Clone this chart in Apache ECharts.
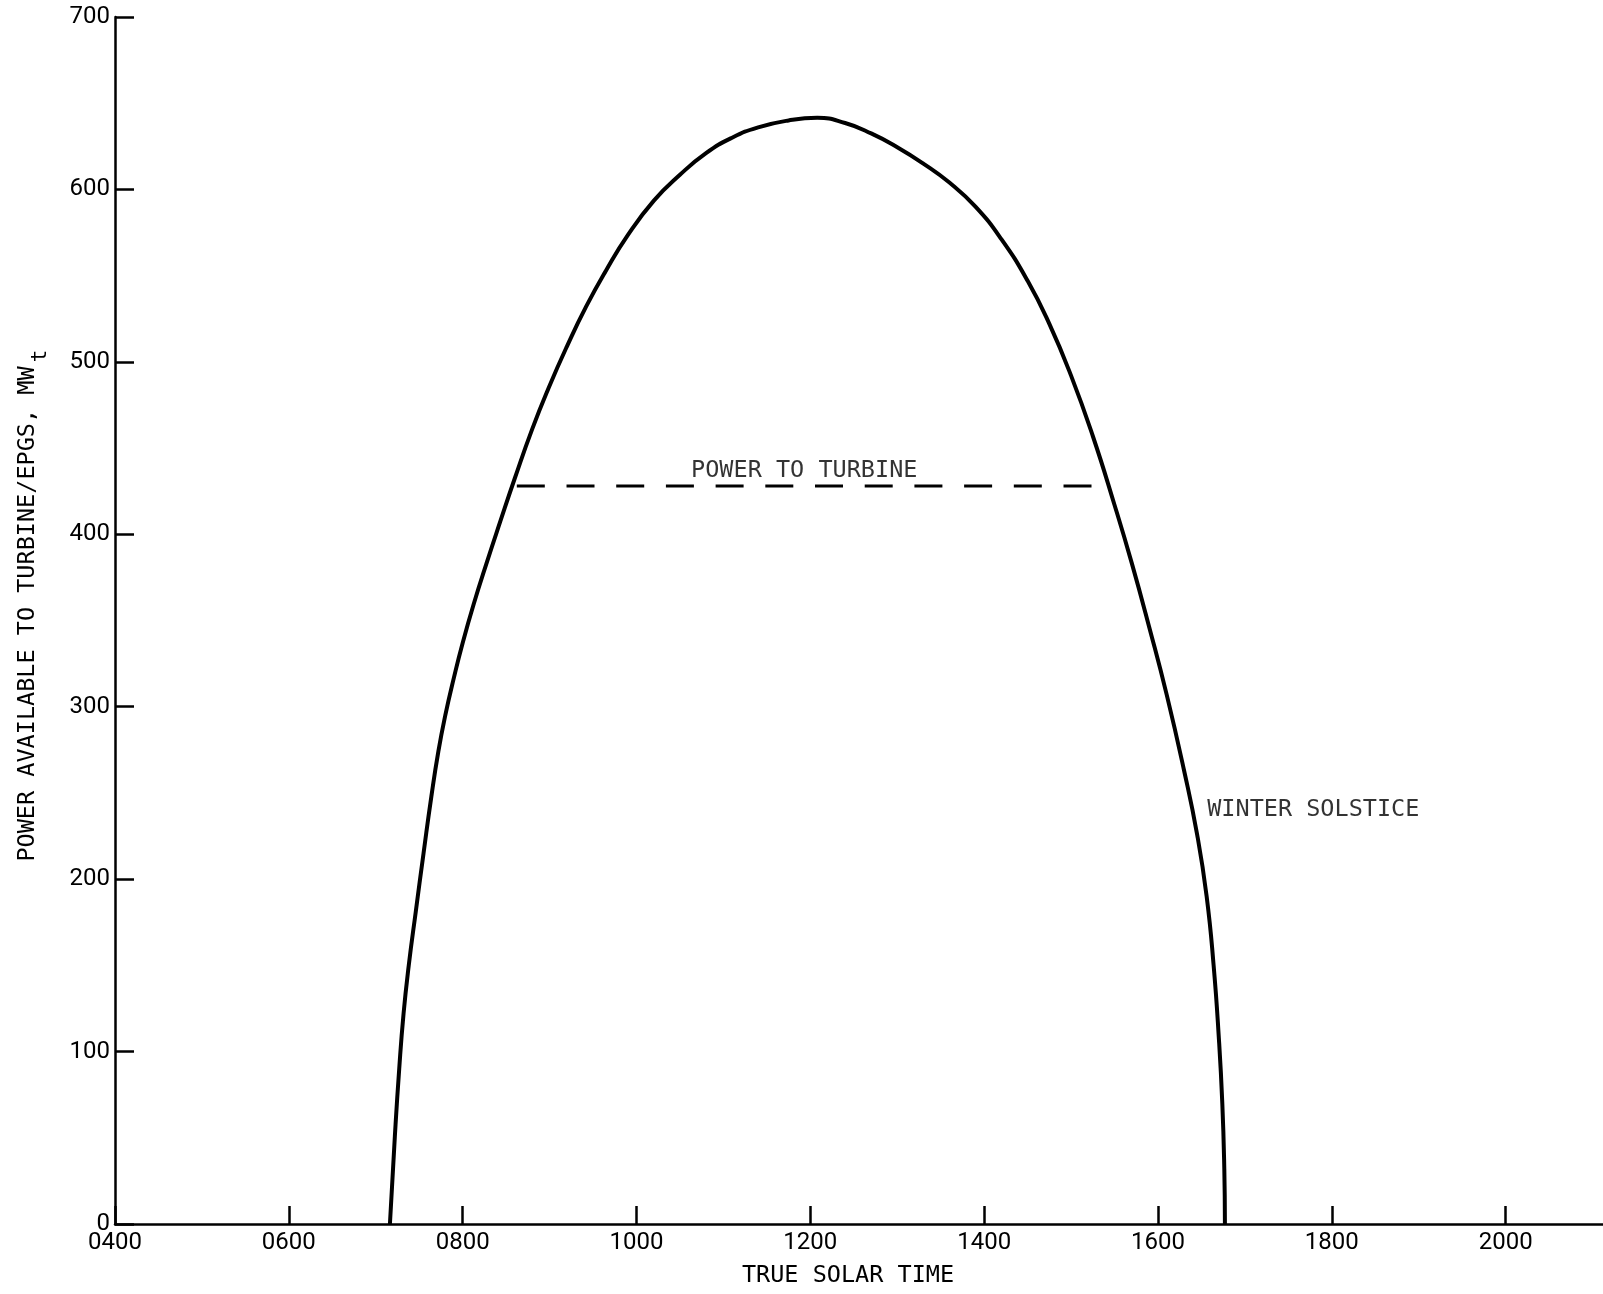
<!DOCTYPE html>
<html>
<head>
<meta charset="utf-8">
<script src="https://cdn.jsdelivr.net/npm/echarts@6/dist/echarts.min.js"></script>
<style>
html,body{margin:0;padding:0;background:#fff;}
#chart{width:1603px;height:1294px;}
</style>
</head>
<body>
<div id="chart"></div>
<script>
// Time in decimal hours (true solar time), power in MWt
const curveTime = [7.163, 7.22, 7.27, 7.32, 7.38, 7.46, 7.55, 7.64, 7.72, 7.80, 7.90, 8.00, 8.13, 8.28, 8.43, 8.60, 8.80, 8.99, 9.20, 9.42, 9.65, 9.90, 10.20, 10.50, 10.80, 11.10, 11.40, 11.75, 12.08, 12.40, 12.70, 13.00, 13.30, 13.60, 13.90, 14.20, 14.50, 14.75, 15.00, 15.25, 15.50, 15.70, 15.90, 16.10, 16.30, 16.45, 16.56, 16.64, 16.70, 16.74, 16.763, 16.77];
const curvePower = [0, 51, 90, 122, 150, 181, 215, 248, 274, 295, 317, 337, 360, 384, 407, 432.5, 461, 485, 509, 532, 553, 573.5, 593.5, 608.5, 621, 630, 636, 640, 641.5, 638.5, 632.5, 624.5, 615, 604, 590, 571, 547, 522, 492, 457, 417, 383, 346, 307, 263, 226, 190, 150, 108, 70, 32, 0];

const turbineTime = [8.623, 15.25];
const turbinePower = [428, 428];

const xTickValues = [4, 6, 8, 10, 12, 14, 16, 18, 20];
const xTickLabels = ['0400', '0600', '0800', '1000', '1200', '1400', '1600', '1800', '2000'];

const noteTexts = ['POWER TO TURBINE', 'WINTER SOLSTICE'];
const noteTime = [11.93, 16.566];
const notePower = [436.8, 240.4];
const noteAlign = ['center', 'left'];

const xTitle = 'TRUE SOLAR TIME';
const yTitleMain = 'POWER AVAILABLE TO TURBINE/EPGS, MW';
const yTitleSub = 't';

const mono = '"DejaVu Sans Mono", "Liberation Mono", monospace';
const sans = 'Roboto, "Liberation Sans", sans-serif';

const chart = echarts.init(document.getElementById('chart'));

const curveData = curveTime.map((t, i) => [t, curvePower[i]]);
const turbineData = turbineTime.map((t, i) => [t, turbinePower[i]]);
const noteSeries = noteTexts.map((txt, i) => ({
  type: 'scatter',
  silent: true,
  symbolSize: 1,
  itemStyle: { color: 'rgba(0,0,0,0)' },
  data: [[noteTime[i], notePower[i]]],
  label: {
    show: true,
    position: 'inside',
    align: noteAlign[i],
    verticalAlign: 'middle',
    formatter: txt,
    fontFamily: mono,
    fontSize: 23.5,
    color: '#000'
  },
  z: 5
}));

chart.setOption({
  backgroundColor: '#fff',
  animation: false,
  grid: { left: 115, right: 0, top: 17, bottom: 70, containLabel: false },
  xAxis: {
    type: 'value',
    min: 4,
    max: 21.12,
    interval: 2,
    name: xTitle,
    nameLocation: 'middle',
    nameGap: 40,
    nameTextStyle: { fontFamily: mono, fontSize: 23.5, color: '#000', padding: [0, 22, 0, 0] },
    axisLine: { show: true, lineStyle: { color: '#000', width: 2.5 } },
    axisTick: { show: true, inside: true, length: 18, customValues: xTickValues, lineStyle: { color: '#000', width: 2.5 } },
    axisLabel: {
      customValues: xTickValues,
      margin: 7,
      fontFamily: sans,
      fontSize: 24,
      color: '#000',
      formatter: v => {
        const i = xTickValues.indexOf(Math.round(v));
        return i >= 0 ? xTickLabels[i] : '';
      }
    },
    splitLine: { show: false }
  },
  yAxis: {
    type: 'value',
    min: 0,
    max: 700,
    interval: 100,
    axisLine: { show: true, lineStyle: { color: '#000', width: 2.5 } },
    axisTick: { show: true, inside: true, length: 19, lineStyle: { color: '#000', width: 2.5 } },
    axisLabel: { margin: 5, fontFamily: sans, fontSize: 24, color: '#000' },
    splitLine: { show: false }
  },
  graphic: [{
    type: 'text',
    x: 28,
    y: 614,
    rotation: Math.PI / 2,
    style: {
      text: yTitleMain,
      align: 'center',
      verticalAlign: 'middle',
      fontFamily: mono,
      fontSize: 23.5,
      fill: '#000'
    }
  }, {
    type: 'text',
    x: 41,
    y: 356,
    rotation: Math.PI / 2,
    style: {
      text: yTitleSub,
      align: 'center',
      verticalAlign: 'middle',
      fontFamily: mono,
      fontSize: 21,
      fill: '#000'
    }
  }],
  series: [
    {
      type: 'line',
      data: curveData,
      smooth: 0.5,
      showSymbol: false,
      lineStyle: { color: '#000', width: 4 },
      z: 3
    },
    {
      type: 'line',
      data: turbineData,
      showSymbol: false,
      lineStyle: { color: '#000', width: 3, type: [28, 21.7] },
      z: 3
    }
  ].concat(noteSeries)
});
</script>
</body>
</html>
